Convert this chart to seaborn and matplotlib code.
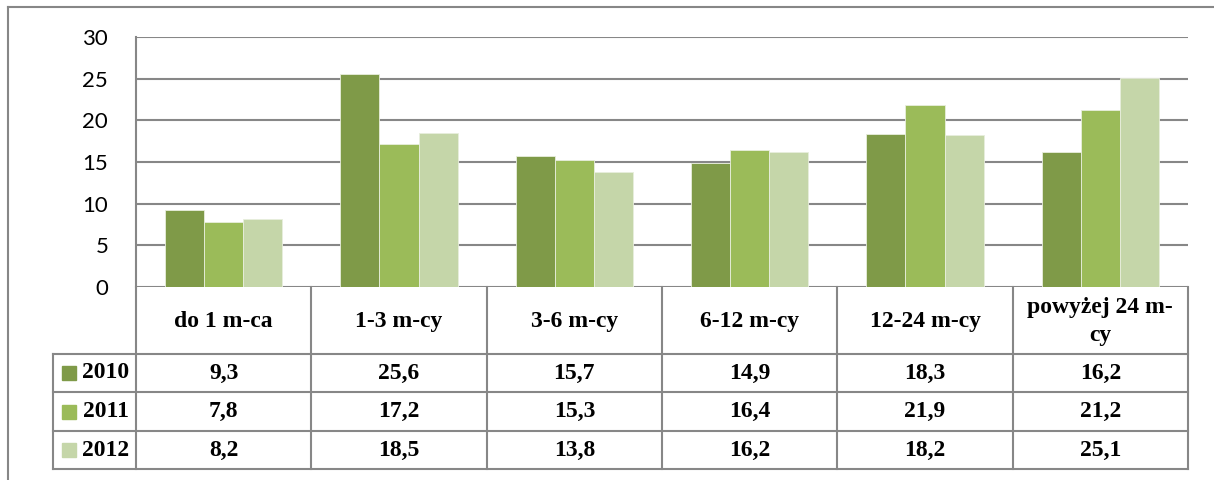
import pandas as pd
import seaborn as sns
import matplotlib.pyplot as plt
from matplotlib.patches import Rectangle

# data
categories = ["do 1 m-ca", "1-3 m-cy", "3-6 m-cy", "6-12 m-cy", "12-24 m-cy", "powyżej 24 m-\ncy"]
years = ["2010", "2011", "2012"]
v2010 = [9.3, 25.6, 15.7, 14.9, 18.3, 16.2]
v2011 = [7.8, 17.2, 15.3, 16.4, 21.9, 21.2]
v2012 = [8.2, 18.5, 13.8, 16.2, 18.2, 25.1]
yticks = [0, 5, 10, 15, 20, 25, 30]
colors = ["#7F9A48", "#9BBB59", "#C5D6A9"]

df = pd.DataFrame({"cat": categories * 3,
                   "year": [y for y in years for _ in categories],
                   "val": v2010 + v2011 + v2012})

W, H = 1214, 480
grid_c = "#878787"
serif = "Liberation Serif"

fig = plt.figure(figsize=(W / 100, H / 100), dpi=100)

# plot area in pixels
L, R, T, B = 136, 1188, 37, 287
ax = fig.add_axes([L / W, 1 - B / H, (R - L) / W, (B - T) / H])
sns.barplot(data=df, x="cat", y="val", hue="year", palette=colors, width=0.67,
            saturation=1, edgecolor="#e8eedd", linewidth=0.6, ax=ax, legend=False)
ax.set_xlim(-0.5, len(categories) - 0.5)
ax.set_ylim(0, 30)
ax.set_yticks(yticks)
ax.set_yticklabels([str(t) for t in yticks], fontsize=16, fontfamily="Lato")
ax.tick_params(axis="y", length=0, pad=20)
ax.set_xticks([])
ax.set(xlabel="", ylabel="")
for t in yticks:
    ax.axhline(t, color=grid_c, lw=1.5, zorder=0)
for s in ["top", "right", "bottom"]:
    ax.spines[s].set_visible(False)
ax.spines["left"].set_color(grid_c)
ax.spines["left"].set_linewidth(1.5)

# overlay in pixel coordinates for the data table and frame
ov = fig.add_axes([0, 0, 1, 1], zorder=5)
ov.set_xlim(0, W)
ov.set_ylim(H, 0)
ov.axis("off")
ov.patch.set_alpha(0)

# outer frame
ov.plot([8, W], [7, 7], color=grid_c, lw=1.5)
ov.plot([8, 8], [7, H], color=grid_c, lw=1.5)

n = len(categories)
cw = (R - L) / n
row_h = [354, 392, 431, 469]
leg_l = 53
# table lines
for i in range(n + 1):
    x = L + i * cw
    ov.plot([x, x], [B, row_h[-1]], color=grid_c, lw=1.5)
ov.plot([leg_l, leg_l], [row_h[0], row_h[-1]], color=grid_c, lw=1.5)
for y in row_h:
    ov.plot([leg_l, R], [y, y], color=grid_c, lw=1.5)

# header row
for i, c in enumerate(categories):
    ov.text(L + (i + 0.5) * cw, (B + row_h[0]) / 2 + 1, c, ha="center", va="center",
            fontsize=17, fontweight="bold", family=serif, linespacing=1.4)

# value rows
for r, (yr, vals) in enumerate(zip(years, [v2010, v2011, v2012])):
    yc = (row_h[r] + row_h[r + 1]) / 2
    ov.add_patch(Rectangle((62, yc - 7), 14, 14, color=colors[r]))
    ov.text(129, yc, yr, ha="right", va="center", fontsize=17,
            fontweight="bold", family=serif)
    for i, v in enumerate(vals):
        ov.text(L + (i + 0.5) * cw, yc, f"{v:.1f}".replace(".", ","), ha="center",
                va="center", fontsize=17, fontweight="bold", family=serif)

fig.savefig("out.png", dpi=100)
plt.close(fig)
